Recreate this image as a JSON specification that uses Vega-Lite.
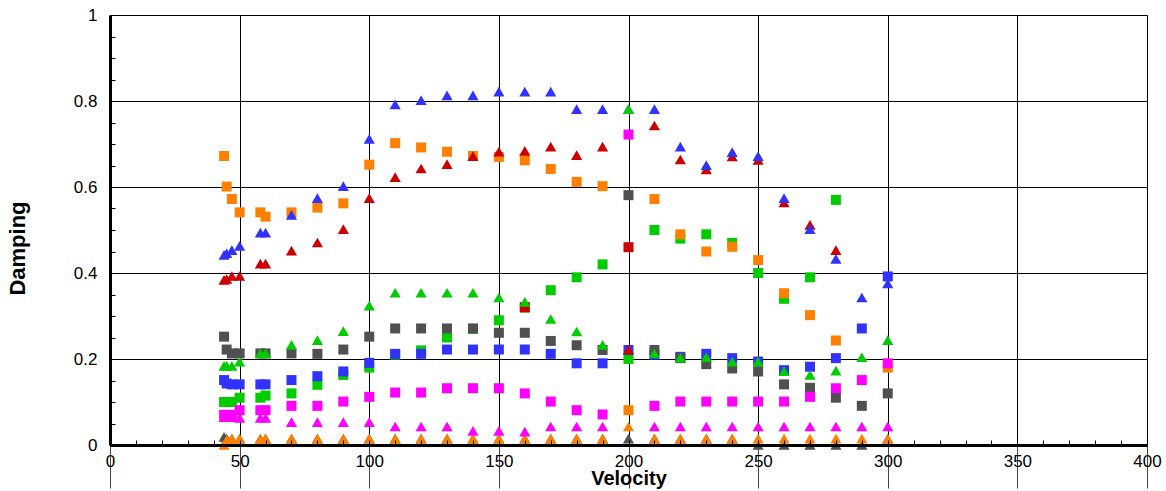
{
  "$schema": "https://vega.github.io/schema/vega-lite/v6.json",
  "autosize": "none",
  "width": 1037,
  "height": 430,
  "padding": {"left": 110, "top": 15, "right": 19, "bottom": 46},
  "background": "white",
  "config": {"view": {"stroke": null}, "font": "Liberation Sans"},
  "data": {"values": [
    {"v":44,"d":0.10,"c":"green","s":"square"},{"v":45,"d":0.10,"c":"green","s":"square"},{"v":47,"d":0.10,"c":"green","s":"square"},{"v":50,"d":0.11,"c":"green","s":"square"},{"v":58,"d":0.11,"c":"green","s":"square"},{"v":60,"d":0.115,"c":"green","s":"square"},{"v":70,"d":0.12,"c":"green","s":"square"},{"v":80,"d":0.14,"c":"green","s":"square"},{"v":90,"d":0.163,"c":"green","s":"square"},{"v":100,"d":0.18,"c":"green","s":"square"},{"v":110,"d":0.21,"c":"green","s":"square"},{"v":120,"d":0.22,"c":"green","s":"square"},{"v":130,"d":0.25,"c":"green","s":"square"},{"v":140,"d":0.27,"c":"green","s":"square"},{"v":150,"d":0.29,"c":"green","s":"square"},{"v":160,"d":0.32,"c":"green","s":"square"},{"v":170,"d":0.36,"c":"green","s":"square"},{"v":180,"d":0.39,"c":"green","s":"square"},{"v":190,"d":0.42,"c":"green","s":"square"},{"v":200,"d":0.20,"c":"green","s":"square"},{"v":210,"d":0.50,"c":"green","s":"square"},{"v":220,"d":0.48,"c":"green","s":"square"},{"v":230,"d":0.49,"c":"green","s":"square"},{"v":240,"d":0.47,"c":"green","s":"square"},{"v":250,"d":0.40,"c":"green","s":"square"},{"v":260,"d":0.34,"c":"green","s":"square"},{"v":270,"d":0.39,"c":"green","s":"square"},{"v":280,"d":0.57,"c":"green","s":"square"},
    {"v":160,"d":0.32,"c":"red","s":"square"},{"v":200,"d":0.46,"c":"red","s":"square"},
    {"v":44,"d":0.151,"c":"blue","s":"square"},{"v":45,"d":0.143,"c":"blue","s":"square"},{"v":47,"d":0.141,"c":"blue","s":"square"},{"v":50,"d":0.141,"c":"blue","s":"square"},{"v":58,"d":0.141,"c":"blue","s":"square"},{"v":60,"d":0.141,"c":"blue","s":"square"},{"v":70,"d":0.151,"c":"blue","s":"square"},{"v":80,"d":0.16,"c":"blue","s":"square"},{"v":90,"d":0.171,"c":"blue","s":"square"},{"v":100,"d":0.191,"c":"blue","s":"square"},{"v":110,"d":0.212,"c":"blue","s":"square"},{"v":120,"d":0.212,"c":"blue","s":"square"},{"v":130,"d":0.222,"c":"blue","s":"square"},{"v":140,"d":0.222,"c":"blue","s":"square"},{"v":150,"d":0.222,"c":"blue","s":"square"},{"v":160,"d":0.222,"c":"blue","s":"square"},{"v":170,"d":0.212,"c":"blue","s":"square"},{"v":180,"d":0.19,"c":"blue","s":"square"},{"v":190,"d":0.19,"c":"blue","s":"square"},{"v":200,"d":0.221,"c":"blue","s":"square"},{"v":210,"d":0.21,"c":"blue","s":"square"},{"v":220,"d":0.205,"c":"blue","s":"square"},{"v":230,"d":0.212,"c":"blue","s":"square"},{"v":240,"d":0.202,"c":"blue","s":"square"},{"v":250,"d":0.194,"c":"blue","s":"square"},{"v":260,"d":0.174,"c":"blue","s":"square"},{"v":270,"d":0.182,"c":"blue","s":"square"},{"v":280,"d":0.202,"c":"blue","s":"square"},{"v":290,"d":0.271,"c":"blue","s":"square"},{"v":300,"d":0.392,"c":"blue","s":"square"},
    {"v":44,"d":0.252,"c":"gray","s":"square"},{"v":45,"d":0.222,"c":"gray","s":"square"},{"v":47,"d":0.213,"c":"gray","s":"square"},{"v":50,"d":0.213,"c":"gray","s":"square"},{"v":58,"d":0.213,"c":"gray","s":"square"},{"v":60,"d":0.213,"c":"gray","s":"square"},{"v":70,"d":0.213,"c":"gray","s":"square"},{"v":80,"d":0.212,"c":"gray","s":"square"},{"v":90,"d":0.222,"c":"gray","s":"square"},{"v":100,"d":0.252,"c":"gray","s":"square"},{"v":110,"d":0.271,"c":"gray","s":"square"},{"v":120,"d":0.271,"c":"gray","s":"square"},{"v":130,"d":0.271,"c":"gray","s":"square"},{"v":140,"d":0.271,"c":"gray","s":"square"},{"v":150,"d":0.261,"c":"gray","s":"square"},{"v":160,"d":0.261,"c":"gray","s":"square"},{"v":170,"d":0.242,"c":"gray","s":"square"},{"v":180,"d":0.232,"c":"gray","s":"square"},{"v":190,"d":0.221,"c":"gray","s":"square"},{"v":200,"d":0.581,"c":"gray","s":"square"},{"v":210,"d":0.221,"c":"gray","s":"square"},{"v":220,"d":0.202,"c":"gray","s":"square"},{"v":230,"d":0.188,"c":"gray","s":"square"},{"v":240,"d":0.178,"c":"gray","s":"square"},{"v":250,"d":0.171,"c":"gray","s":"square"},{"v":260,"d":0.141,"c":"gray","s":"square"},{"v":270,"d":0.133,"c":"gray","s":"square"},{"v":280,"d":0.11,"c":"gray","s":"square"},{"v":290,"d":0.091,"c":"gray","s":"square"},{"v":300,"d":0.12,"c":"gray","s":"square"},
    {"v":44,"d":0.672,"c":"orange","s":"square"},{"v":45,"d":0.601,"c":"orange","s":"square"},{"v":47,"d":0.572,"c":"orange","s":"square"},{"v":50,"d":0.541,"c":"orange","s":"square"},{"v":58,"d":0.541,"c":"orange","s":"square"},{"v":60,"d":0.531,"c":"orange","s":"square"},{"v":70,"d":0.541,"c":"orange","s":"square"},{"v":80,"d":0.552,"c":"orange","s":"square"},{"v":90,"d":0.562,"c":"orange","s":"square"},{"v":100,"d":0.652,"c":"orange","s":"square"},{"v":110,"d":0.702,"c":"orange","s":"square"},{"v":120,"d":0.692,"c":"orange","s":"square"},{"v":130,"d":0.682,"c":"orange","s":"square"},{"v":140,"d":0.672,"c":"orange","s":"square"},{"v":150,"d":0.67,"c":"orange","s":"square"},{"v":160,"d":0.662,"c":"orange","s":"square"},{"v":170,"d":0.642,"c":"orange","s":"square"},{"v":180,"d":0.612,"c":"orange","s":"square"},{"v":190,"d":0.602,"c":"orange","s":"square"},{"v":200,"d":0.081,"c":"orange","s":"square"},{"v":210,"d":0.572,"c":"orange","s":"square"},{"v":220,"d":0.49,"c":"orange","s":"square"},{"v":230,"d":0.45,"c":"orange","s":"square"},{"v":240,"d":0.461,"c":"orange","s":"square"},{"v":250,"d":0.43,"c":"orange","s":"square"},{"v":260,"d":0.353,"c":"orange","s":"square"},{"v":270,"d":0.302,"c":"orange","s":"square"},{"v":280,"d":0.243,"c":"orange","s":"square"},{"v":300,"d":0.18,"c":"orange","s":"square"},
    {"v":44,"d":0.07,"c":"magenta","s":"square"},{"v":45,"d":0.07,"c":"magenta","s":"square"},{"v":47,"d":0.07,"c":"magenta","s":"square"},{"v":50,"d":0.081,"c":"magenta","s":"square"},{"v":58,"d":0.081,"c":"magenta","s":"square"},{"v":60,"d":0.081,"c":"magenta","s":"square"},{"v":70,"d":0.091,"c":"magenta","s":"square"},{"v":80,"d":0.091,"c":"magenta","s":"square"},{"v":90,"d":0.101,"c":"magenta","s":"square"},{"v":100,"d":0.112,"c":"magenta","s":"square"},{"v":110,"d":0.122,"c":"magenta","s":"square"},{"v":120,"d":0.122,"c":"magenta","s":"square"},{"v":130,"d":0.132,"c":"magenta","s":"square"},{"v":140,"d":0.132,"c":"magenta","s":"square"},{"v":150,"d":0.132,"c":"magenta","s":"square"},{"v":160,"d":0.12,"c":"magenta","s":"square"},{"v":170,"d":0.101,"c":"magenta","s":"square"},{"v":180,"d":0.081,"c":"magenta","s":"square"},{"v":190,"d":0.071,"c":"magenta","s":"square"},{"v":200,"d":0.722,"c":"magenta","s":"square"},{"v":210,"d":0.091,"c":"magenta","s":"square"},{"v":220,"d":0.101,"c":"magenta","s":"square"},{"v":230,"d":0.101,"c":"magenta","s":"square"},{"v":240,"d":0.101,"c":"magenta","s":"square"},{"v":250,"d":0.101,"c":"magenta","s":"square"},{"v":260,"d":0.101,"c":"magenta","s":"square"},{"v":270,"d":0.112,"c":"magenta","s":"square"},{"v":280,"d":0.132,"c":"magenta","s":"square"},{"v":290,"d":0.151,"c":"magenta","s":"square"},{"v":300,"d":0.19,"c":"magenta","s":"square"},
    {"v":44,"d":0.019,"c":"gray","s":"triangle"},{"v":45,"d":0.015,"c":"gray","s":"triangle"},{"v":47,"d":0.015,"c":"gray","s":"triangle"},{"v":50,"d":0.015,"c":"gray","s":"triangle"},{"v":58,"d":0.015,"c":"gray","s":"triangle"},{"v":60,"d":0.015,"c":"gray","s":"triangle"},{"v":70,"d":0.015,"c":"gray","s":"triangle"},{"v":80,"d":0.015,"c":"gray","s":"triangle"},{"v":90,"d":0.015,"c":"gray","s":"triangle"},{"v":100,"d":0.015,"c":"gray","s":"triangle"},{"v":110,"d":0.015,"c":"gray","s":"triangle"},{"v":120,"d":0.015,"c":"gray","s":"triangle"},{"v":130,"d":0.015,"c":"gray","s":"triangle"},{"v":140,"d":0.015,"c":"gray","s":"triangle"},{"v":150,"d":0.015,"c":"gray","s":"triangle"},{"v":160,"d":0.015,"c":"gray","s":"triangle"},{"v":170,"d":0.015,"c":"gray","s":"triangle"},{"v":180,"d":0.015,"c":"gray","s":"triangle"},{"v":190,"d":0.015,"c":"gray","s":"triangle"},{"v":200,"d":0.015,"c":"gray","s":"triangle"},{"v":210,"d":0.015,"c":"gray","s":"triangle"},{"v":220,"d":0.015,"c":"gray","s":"triangle"},{"v":230,"d":0.015,"c":"gray","s":"triangle"},{"v":240,"d":0.015,"c":"gray","s":"triangle"},{"v":250,"d":0.0,"c":"gray","s":"triangle"},{"v":260,"d":0.0,"c":"gray","s":"triangle"},{"v":270,"d":0.0,"c":"gray","s":"triangle"},{"v":280,"d":0.0,"c":"gray","s":"triangle"},{"v":290,"d":0.0,"c":"gray","s":"triangle"},{"v":300,"d":0.015,"c":"gray","s":"triangle"},
    {"v":44,"d":0.0,"c":"orange","s":"triangle"},{"v":45,"d":0.012,"c":"orange","s":"triangle"},{"v":47,"d":0.015,"c":"orange","s":"triangle"},{"v":50,"d":0.015,"c":"orange","s":"triangle"},{"v":58,"d":0.015,"c":"orange","s":"triangle"},{"v":60,"d":0.015,"c":"orange","s":"triangle"},{"v":70,"d":0.015,"c":"orange","s":"triangle"},{"v":80,"d":0.015,"c":"orange","s":"triangle"},{"v":90,"d":0.015,"c":"orange","s":"triangle"},{"v":100,"d":0.015,"c":"orange","s":"triangle"},{"v":110,"d":0.015,"c":"orange","s":"triangle"},{"v":120,"d":0.015,"c":"orange","s":"triangle"},{"v":130,"d":0.015,"c":"orange","s":"triangle"},{"v":140,"d":0.015,"c":"orange","s":"triangle"},{"v":150,"d":0.015,"c":"orange","s":"triangle"},{"v":160,"d":0.015,"c":"orange","s":"triangle"},{"v":170,"d":0.015,"c":"orange","s":"triangle"},{"v":180,"d":0.015,"c":"orange","s":"triangle"},{"v":190,"d":0.015,"c":"orange","s":"triangle"},{"v":200,"d":0.043,"c":"orange","s":"triangle"},{"v":210,"d":0.015,"c":"orange","s":"triangle"},{"v":220,"d":0.015,"c":"orange","s":"triangle"},{"v":230,"d":0.015,"c":"orange","s":"triangle"},{"v":240,"d":0.015,"c":"orange","s":"triangle"},{"v":250,"d":0.015,"c":"orange","s":"triangle"},{"v":260,"d":0.015,"c":"orange","s":"triangle"},{"v":270,"d":0.015,"c":"orange","s":"triangle"},{"v":280,"d":0.015,"c":"orange","s":"triangle"},{"v":290,"d":0.015,"c":"orange","s":"triangle"},{"v":300,"d":0.015,"c":"orange","s":"triangle"},
    {"v":44,"d":0.065,"c":"magenta","s":"triangle"},{"v":45,"d":0.065,"c":"magenta","s":"triangle"},{"v":47,"d":0.065,"c":"magenta","s":"triangle"},{"v":50,"d":0.063,"c":"magenta","s":"triangle"},{"v":58,"d":0.063,"c":"magenta","s":"triangle"},{"v":60,"d":0.063,"c":"magenta","s":"triangle"},{"v":70,"d":0.053,"c":"magenta","s":"triangle"},{"v":80,"d":0.053,"c":"magenta","s":"triangle"},{"v":90,"d":0.053,"c":"magenta","s":"triangle"},{"v":100,"d":0.053,"c":"magenta","s":"triangle"},{"v":110,"d":0.043,"c":"magenta","s":"triangle"},{"v":120,"d":0.043,"c":"magenta","s":"triangle"},{"v":130,"d":0.043,"c":"magenta","s":"triangle"},{"v":140,"d":0.033,"c":"magenta","s":"triangle"},{"v":150,"d":0.033,"c":"magenta","s":"triangle"},{"v":160,"d":0.031,"c":"magenta","s":"triangle"},{"v":170,"d":0.043,"c":"magenta","s":"triangle"},{"v":180,"d":0.043,"c":"magenta","s":"triangle"},{"v":190,"d":0.043,"c":"magenta","s":"triangle"},{"v":210,"d":0.043,"c":"magenta","s":"triangle"},{"v":220,"d":0.043,"c":"magenta","s":"triangle"},{"v":230,"d":0.043,"c":"magenta","s":"triangle"},{"v":240,"d":0.043,"c":"magenta","s":"triangle"},{"v":250,"d":0.043,"c":"magenta","s":"triangle"},{"v":260,"d":0.043,"c":"magenta","s":"triangle"},{"v":270,"d":0.043,"c":"magenta","s":"triangle"},{"v":280,"d":0.043,"c":"magenta","s":"triangle"},{"v":290,"d":0.043,"c":"magenta","s":"triangle"},{"v":300,"d":0.043,"c":"magenta","s":"triangle"},
    {"v":44,"d":0.384,"c":"red","s":"triangle"},{"v":45,"d":0.386,"c":"red","s":"triangle"},{"v":47,"d":0.393,"c":"red","s":"triangle"},{"v":50,"d":0.393,"c":"red","s":"triangle"},{"v":58,"d":0.422,"c":"red","s":"triangle"},{"v":60,"d":0.422,"c":"red","s":"triangle"},{"v":70,"d":0.452,"c":"red","s":"triangle"},{"v":80,"d":0.471,"c":"red","s":"triangle"},{"v":90,"d":0.502,"c":"red","s":"triangle"},{"v":100,"d":0.574,"c":"red","s":"triangle"},{"v":110,"d":0.623,"c":"red","s":"triangle"},{"v":120,"d":0.643,"c":"red","s":"triangle"},{"v":130,"d":0.653,"c":"red","s":"triangle"},{"v":140,"d":0.672,"c":"red","s":"triangle"},{"v":150,"d":0.682,"c":"red","s":"triangle"},{"v":160,"d":0.684,"c":"red","s":"triangle"},{"v":170,"d":0.694,"c":"red","s":"triangle"},{"v":180,"d":0.674,"c":"red","s":"triangle"},{"v":190,"d":0.694,"c":"red","s":"triangle"},{"v":200,"d":0.222,"c":"red","s":"triangle"},{"v":210,"d":0.743,"c":"red","s":"triangle"},{"v":220,"d":0.664,"c":"red","s":"triangle"},{"v":230,"d":0.641,"c":"red","s":"triangle"},{"v":240,"d":0.671,"c":"red","s":"triangle"},{"v":250,"d":0.663,"c":"red","s":"triangle"},{"v":260,"d":0.564,"c":"red","s":"triangle"},{"v":270,"d":0.512,"c":"red","s":"triangle"},{"v":280,"d":0.453,"c":"red","s":"triangle"},
    {"v":44,"d":0.442,"c":"blue","s":"triangle"},{"v":45,"d":0.446,"c":"blue","s":"triangle"},{"v":47,"d":0.453,"c":"blue","s":"triangle"},{"v":50,"d":0.463,"c":"blue","s":"triangle"},{"v":58,"d":0.494,"c":"blue","s":"triangle"},{"v":60,"d":0.494,"c":"blue","s":"triangle"},{"v":70,"d":0.535,"c":"blue","s":"triangle"},{"v":80,"d":0.574,"c":"blue","s":"triangle"},{"v":90,"d":0.602,"c":"blue","s":"triangle"},{"v":100,"d":0.712,"c":"blue","s":"triangle"},{"v":110,"d":0.792,"c":"blue","s":"triangle"},{"v":120,"d":0.802,"c":"blue","s":"triangle"},{"v":130,"d":0.813,"c":"blue","s":"triangle"},{"v":140,"d":0.813,"c":"blue","s":"triangle"},{"v":150,"d":0.822,"c":"blue","s":"triangle"},{"v":160,"d":0.822,"c":"blue","s":"triangle"},{"v":170,"d":0.822,"c":"blue","s":"triangle"},{"v":180,"d":0.781,"c":"blue","s":"triangle"},{"v":190,"d":0.781,"c":"blue","s":"triangle"},{"v":200,"d":0.781,"c":"blue","s":"triangle"},{"v":210,"d":0.781,"c":"blue","s":"triangle"},{"v":220,"d":0.694,"c":"blue","s":"triangle"},{"v":230,"d":0.651,"c":"blue","s":"triangle"},{"v":240,"d":0.681,"c":"blue","s":"triangle"},{"v":250,"d":0.672,"c":"blue","s":"triangle"},{"v":260,"d":0.574,"c":"blue","s":"triangle"},{"v":270,"d":0.502,"c":"blue","s":"triangle"},{"v":280,"d":0.433,"c":"blue","s":"triangle"},{"v":290,"d":0.343,"c":"blue","s":"triangle"},{"v":300,"d":0.376,"c":"blue","s":"triangle"},
    {"v":44,"d":0.184,"c":"green","s":"triangle"},{"v":45,"d":0.184,"c":"green","s":"triangle"},{"v":47,"d":0.184,"c":"green","s":"triangle"},{"v":50,"d":0.194,"c":"green","s":"triangle"},{"v":58,"d":0.213,"c":"green","s":"triangle"},{"v":60,"d":0.213,"c":"green","s":"triangle"},{"v":70,"d":0.233,"c":"green","s":"triangle"},{"v":80,"d":0.244,"c":"green","s":"triangle"},{"v":90,"d":0.265,"c":"green","s":"triangle"},{"v":100,"d":0.324,"c":"green","s":"triangle"},{"v":110,"d":0.354,"c":"green","s":"triangle"},{"v":120,"d":0.354,"c":"green","s":"triangle"},{"v":130,"d":0.354,"c":"green","s":"triangle"},{"v":140,"d":0.354,"c":"green","s":"triangle"},{"v":150,"d":0.343,"c":"green","s":"triangle"},{"v":160,"d":0.333,"c":"green","s":"triangle"},{"v":170,"d":0.293,"c":"green","s":"triangle"},{"v":180,"d":0.264,"c":"green","s":"triangle"},{"v":190,"d":0.233,"c":"green","s":"triangle"},{"v":200,"d":0.781,"c":"green","s":"triangle"},{"v":210,"d":0.213,"c":"green","s":"triangle"},{"v":220,"d":0.203,"c":"green","s":"triangle"},{"v":230,"d":0.204,"c":"green","s":"triangle"},{"v":240,"d":0.194,"c":"green","s":"triangle"},{"v":250,"d":0.194,"c":"green","s":"triangle"},{"v":260,"d":0.172,"c":"green","s":"triangle"},{"v":270,"d":0.163,"c":"green","s":"triangle"},{"v":280,"d":0.173,"c":"green","s":"triangle"},{"v":290,"d":0.204,"c":"green","s":"triangle"},{"v":300,"d":0.244,"c":"green","s":"triangle"}
  ]},
  "layer": [
    {
      "mark": {"type": "point", "filled": true, "opacity": 1, "strokeWidth": 0},
      "encoding": {
        "x": {"field": "v", "type": "quantitative",
          "scale": {"domain": [0, 400], "nice": false, "zero": false},
          "axis": {"values": [0,50,100,150,200,250,300,350,400], "grid": true, "gridColor": "black", "gridWidth": 1, "gridOpacity": 1,
            "domain": false, "ticks": true, "tickSize": 43, "tickColor": "#444", "tickWidth": 1,
            "labelPadding": -35, "labelFontSize": 17, "labelColor": "black", "labelFont": "Liberation Sans", "labelFlush": false, "labelOverlap": false,
            "title": "Velocity", "titleFontSize": 20, "titleFontWeight": "bold", "titleColor": "black", "titleFont": "Liberation Sans", "titlePadding": -20}},
        "y": {"field": "d", "type": "quantitative",
          "scale": {"domain": [0, 1], "nice": false, "zero": false},
          "axis": {"values": [0,0.2,0.4,0.6,0.8,1], "grid": true, "gridColor": "black", "gridWidth": 1, "gridOpacity": 1,
            "domain": false, "ticks": true, "tickSize": 0, "labelExpr": "'' + datum.value",
            "labelPadding": 13, "labelFontSize": 17, "labelColor": "black", "labelFont": "Liberation Sans", "labelFlush": false, "labelOverlap": false,
            "title": "Damping", "titleFontSize": 22, "titleFontWeight": "bold", "titleColor": "black", "titleFont": "Liberation Sans", "titlePadding": 44, "titleY": 233}},
        "color": {"field": "c", "type": "nominal", "legend": null,
          "scale": {"domain": ["blue","red","orange","green","gray","magenta"], "range": ["#3232ff","#cc0000","#ff8000","#00cc00","#505050","#ff00ff"]}},
        "shape": {"field": "s", "type": "nominal", "legend": null,
          "scale": {"domain": ["square","triangle"], "range": ["square","triangle-up"]}},
        "size": {"field": "s", "type": "nominal", "legend": null,
          "scale": {"domain": ["square","triangle"], "range": [100, 125]}}
      }
    },
    {
      "mark": {"type": "point", "opacity": 0},
      "encoding": {
        "x": {"field": "v", "type": "quantitative",
          "axis": {"orient": "bottom", "values": [0,10,20,30,40,50,60,70,80,90,100,110,120,130,140,150,160,170,180,190,200,210,220,230,240,250,260,270,280,290,300,310,320,330,340,350,360,370,380,390,400],
            "grid": false, "labels": false, "title": null, "domain": true, "domainColor": "black", "domainWidth": 3,
            "ticks": true, "tickSize": -5, "tickColor": "black", "tickWidth": 1, "zindex": 1}},
        "y": {"field": "d", "type": "quantitative",
          "axis": {"orient": "left", "values": [0,0.05,0.1,0.15,0.2,0.25,0.3,0.35,0.4,0.45,0.5,0.55,0.6,0.65,0.7,0.75,0.8,0.85,0.9,0.95,1],
            "grid": false, "labels": false, "title": null, "domain": true, "domainColor": "black", "domainWidth": 3,
            "ticks": true, "tickSize": -5, "tickColor": "black", "tickWidth": 1, "zindex": 1}}
      }
    }
  ],
  "resolve": {"axis": {"x": "independent", "y": "independent"}}
}
